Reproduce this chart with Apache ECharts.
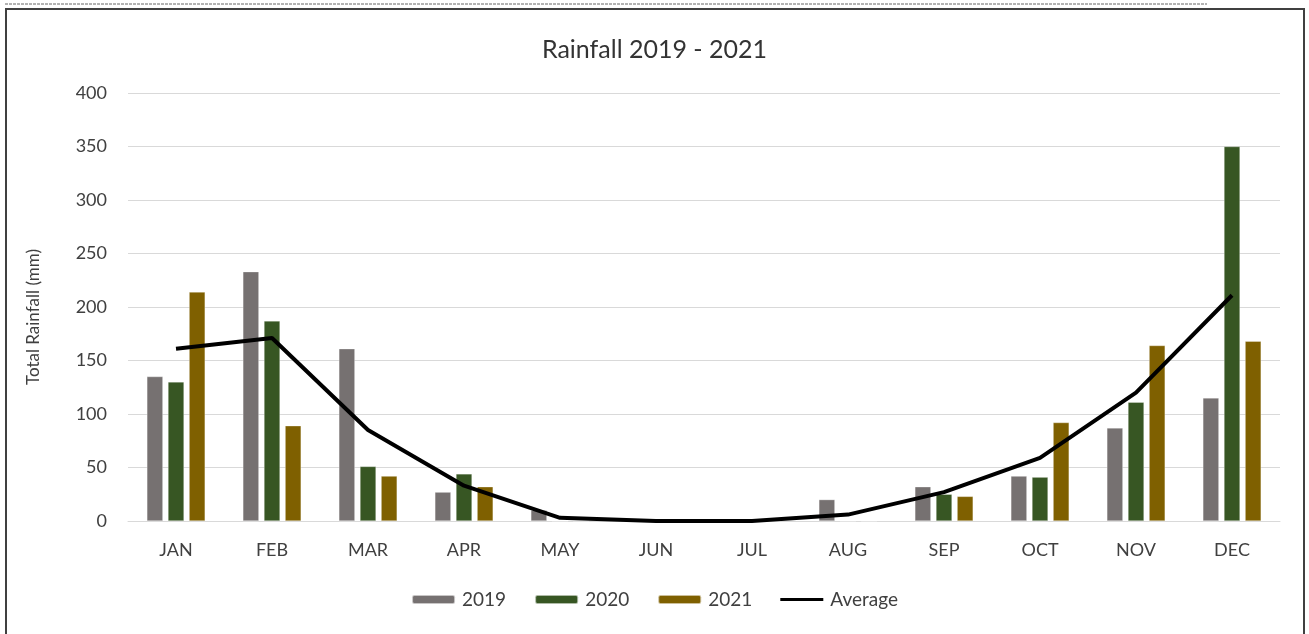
<!DOCTYPE html>
<html>
<head>
<meta charset="utf-8">
<title>Rainfall 2019 - 2021</title>
<script src="https://cdn.jsdelivr.net/npm/echarts@6/dist/echarts.min.js"></script>
<style>
  html, body { margin: 0; padding: 0; background: #fff; }
  #main { width: 1309px; height: 634px; }
</style>
</head>
<body>
<div id="main"></div>
<script>
// data
var months = ['JAN', 'FEB', 'MAR', 'APR', 'MAY', 'JUN', 'JUL', 'AUG', 'SEP', 'OCT', 'NOV', 'DEC'];
var rain2019 = [135, 233, 161, 27, 10, 0, 0, 20, 32, 42, 87, 115];
var rain2020 = [130, 187, 51, 44, 0, 0, 0, 0, 25, 41, 111, 350];
var rain2021 = [214, 89, 42, 32, 0, 0, 0, 0, 23, 92, 164, 168];
var average = [161, 171, 85, 33, 3, 0, 0, 6, 27, 59, 120, 211];
var yTicks = [0, 50, 100, 150, 200, 250, 300, 350, 400];

var font = 'Lato';
var textColor = '#404040';

function barSeries(name, data, color) {
    return {
        name: name,
        type: 'bar',
        data: data,
        barWidth: 16,
        barGap: '32%',
        itemStyle: { color: color, borderColor: 'rgba(255,255,255,0.6)', borderWidth: 0.5 }
    };
}

var myChart = echarts.init(document.getElementById('main'));

var option = {
    backgroundColor: '#fff',
    animation: false,
    title: {
        text: 'Rainfall 2019 - 2021',
        left: 'center',
        top: 32,
        textStyle: { fontFamily: font, fontSize: 25, fontWeight: 'normal', color: '#333' }
    },
    legend: {
        bottom: 20,
        left: 'center',
        itemWidth: 43,
        itemHeight: 9,
        itemGap: 28,
        textStyle: { fontFamily: font, fontSize: 19, color: textColor, padding: [0, 0, 0, 2] },
        data: ['2019', '2020', '2021', { name: 'Average', icon: 'path://M0,4 L43,4 L43,7 L0,7 Z' }]
    },
    grid: { left: 128, right: 29, top: 93, bottom: 113 },
    xAxis: {
        type: 'category',
        data: months,
        axisTick: { show: false },
        axisLine: { lineStyle: { color: '#d9d9d9' } },
        axisLabel: { fontFamily: font, fontSize: 18, color: textColor, margin: 20 }
    },
    yAxis: {
        type: 'value',
        min: yTicks[0],
        max: yTicks[yTicks.length - 1],
        interval: 50,
        name: 'Total Rainfall (mm)',
        nameLocation: 'middle',
        nameGap: 86,
        nameTextStyle: { fontFamily: font, fontSize: 17, color: textColor, padding: [0, 20, 0, 0] },
        axisLine: { show: false },
        axisTick: { show: false },
        axisLabel: { fontFamily: font, fontSize: 18, color: textColor, margin: 21 },
        splitLine: { lineStyle: { color: '#d9d9d9' } }
    },
    series: [
        barSeries('2019', rain2019, '#767171'),
        barSeries('2020', rain2020, '#375623'),
        barSeries('2021', rain2021, '#7f6000'),
        {
            name: 'Average',
            type: 'line',
            data: average,
            symbol: 'none',
            itemStyle: { color: '#000' },
            lineStyle: { color: '#000', width: 4 },
            z: 5
        }
    ],
    graphic: [
        {
            type: 'line',
            shape: { x1: 5, y1: 4, x2: 1207, y2: 4 },
            style: { stroke: '#666', lineWidth: 1, lineDash: [3, 1] }
        },
        {
            type: 'rect',
            shape: { x: 6, y: 9, width: 1298, height: 640 },
            style: { fill: 'none', stroke: '#404040', lineWidth: 2 }
        }
    ]
};

myChart.setOption(option);
</script>
</body>
</html>
